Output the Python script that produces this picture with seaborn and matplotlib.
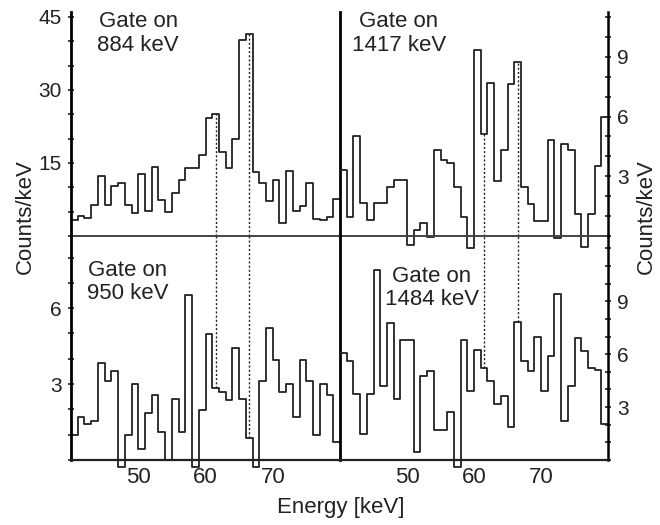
import numpy as np
import pandas as pd
import matplotlib
matplotlib.use("Agg")
import matplotlib.pyplot as plt
from matplotlib.ticker import MultipleLocator
import seaborn as sns

# 1 keV bins from 40 to 80 keV, counts/keV
edges = np.arange(40, 81, 1)
centers = edges[:-1] + 0.5

gate_884 = [3.3, 4.1, 3.6, 6.4, 12.4, 6.4, 10.3, 10.8, 6.4, 4.7,
            12.7, 5.1, 14.2, 7.3, 4.9, 8.9, 11.5, 14.0, 14.0, 16.7,
            24.2, 25.1, 17.3, 13.9, 20.0, 40.3, 41.5, 13.2, 10.8, 7.1,
            11.4, 2.7, 13.4, 5.1, 6.2, 10.8, 3.4, 3.2, 4.0, 7.7]
gate_1417 = [3.3, 0.97, 5.0, 1.68, 0.8, 1.68, 1.68, 2.47, 2.83, 2.83,
             -0.45, 0.3, 0.65, -0.05, 4.3, 3.83, 3.67, 2.47, 0.93, -0.6,
             9.33, 5.13, 7.68, 2.77, 4.3, 7.63, 8.75, 2.47, 1.63, 0.77,
             0.77, 4.83, -0.1, 4.6, 4.3, 1.13, -0.55, 1.13, 3.5, 5.97]
gate_950 = [0.98, 1.70, 1.44, 1.55, 3.82, 3.12, 3.53, -0.28, 0.98, 2.99,
            0.42, 1.84, 2.55, 1.11, 0.0, 2.40, 1.11, 6.5, -0.28, 1.97,
            4.97, 2.83, 2.69, 2.39, 4.41, 2.40, 0.85, -0.28, 3.12, 5.23,
            3.95, 2.67, 2.99, 1.68, 3.95, 3.12, 0.98, 2.99, 2.56, 0.71]
gate_1484 = [6.06, 5.64, 3.73, 1.45, 3.73, 10.8, 4.19, 7.77, 3.45, 6.78,
             6.78, 0.44, 4.76, 5.05, 1.71, 1.71, 2.72, -0.42, 6.78, 3.90,
             6.21, 5.2, 4.48, 3.16, 3.64, 1.87, 7.81, 5.62, 5.05, 6.95,
             3.90, 5.92, 9.39, 2.19, 4.21, 6.91, 6.19, 5.2, 5.1, 2.02]

gate_labels = ["Gate on\n884 keV", "Gate on\n1417 keV",
               "Gate on\n950 keV", "Gate on\n1484 keV"]
marker_lines = [61.5, 66.5]
x_ticks = [50, 60, 70]
y_ticks = [[15, 30, 45], [3, 6, 9], [3, 6], [3, 6, 9]]

sns.set_style("white")
plt.rcParams["font.family"] = ["Liberation Sans", "DejaVu Sans"]
plt.rcParams["font.size"] = 16

ink = "#222222"
fig = plt.figure(figsize=(6.6, 5.25), dpi=100)

x_l, x_r, w = 71 / 660, 340 / 660, 269 / 660
y_t, y_b, h = (525 - 236) / 525, (525 - 460) / 525, 224 / 525

ax_tl = fig.add_axes([x_l, y_t, w, h])
ax_tr = fig.add_axes([x_r, y_t, 268 / 660, h])
ax_bl = fig.add_axes([x_l, y_b, w, h])
ax_br = fig.add_axes([x_r, y_b, 268 / 660, h])

panels = [
    (ax_tl, gate_884, 46.0, 5, "left", (0.25, 1.004)),
    (ax_tr, gate_1417, 11.25, 1, "right", (0.22, 1.004)),
    (ax_bl, gate_950, 8.85, 1, "left", (0.212, 0.895)),
    (ax_br, gate_1484, 12.7, 1, "right", (0.342, 0.868)),
]

for i, (ax, vals, ytop, minor, side, txt_pos) in enumerate(panels):
    df = pd.DataFrame({"energy": centers, "counts": vals})
    sns.histplot(data=df, x="energy", weights="counts", binwidth=1,
                 binrange=(40, 80), element="step", fill=False, color=ink,
                 linewidth=1.3, clip_on=False, ax=ax)
    ax.set_xlim(40, 80)
    ax.set_ylim(0, ytop)
    ax.set_xlabel("")
    ax.set_ylabel("")

    top_row = i < 2
    # dotted markers linking the two rows
    for e in marker_lines:
        v = vals[int(e - 40)]
        if top_row:
            ax.vlines(e, 0, v, colors=ink, linestyles=(0, (1.5, 1.5)), linewidth=1.0)
        else:
            ax.vlines(e, v, ytop, colors=ink, linestyles=(0, (1.5, 1.5)), linewidth=1.0)

    ax.yaxis.set_minor_locator(MultipleLocator(minor))
    ax.set_xticks(x_ticks)
    if side == "right":
        ax.yaxis.tick_right()
    else:
        ax.yaxis.tick_left()
    ax.set_yticks(y_ticks[i])
    ax.set_yticklabels([str(t) for t in y_ticks[i]])
    ax.tick_params(axis="y", which="major", direction="inout", length=5,
                   width=1.2, color=ink, labelcolor=ink, labelsize=15, pad=4)
    ax.tick_params(axis="y", which="minor", direction="inout", length=4,
                   width=1.2, color=ink)
    ax.tick_params(axis="x", which="major", direction="in", length=4,
                   width=1.2, color=ink, labelcolor=ink, labelsize=16, pad=5,
                   labelbottom=not top_row)

    for s in ax.spines.values():
        s.set_visible(False)
    if side == "left":
        ax.spines["left"].set_visible(True)
        ax.spines["left"].set_linewidth(2.0)
        ax.spines["left"].set_color("black")
        ax.spines["right"].set_visible(True)
        ax.spines["right"].set_linewidth(2.0)
        ax.spines["right"].set_color("black")
    else:
        ax.spines["right"].set_visible(True)
        ax.spines["right"].set_linewidth(1.8)
        ax.spines["right"].set_color("black")
    ax.spines["bottom"].set_visible(True)
    ax.spines["bottom"].set_linewidth(1.4 if top_row else 1.6)
    ax.spines["bottom"].set_color("#444444" if top_row else ink)
    ax.set_facecolor("none")

    ax.text(txt_pos[0], txt_pos[1], gate_labels[i], transform=ax.transAxes,
            ha="center", va="top", multialignment="center", fontsize=16,
            color=ink, linespacing=1.15)

fig.text(0.038, (525 - 217) / 525, "Counts/keV", rotation=90, ha="center",
         va="center", fontsize=16, color=ink)
fig.text(646 / 660, (525 - 217) / 525, "Counts/keV", rotation=90, ha="center",
         va="center", fontsize=16, color=ink)
fig.text(341 / 660, (525 - 508) / 525, "Energy [keV]", ha="center",
         va="center", fontsize=16, color=ink)

fig.savefig("out.png", dpi=100, facecolor="white")
